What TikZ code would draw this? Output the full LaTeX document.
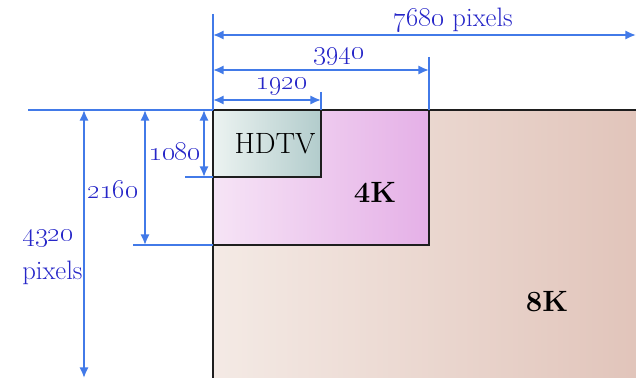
\documentclass[tikz,border=0pt]{standalone}
\usetikzlibrary{arrows.meta}
\definecolor{dimblue}{RGB}{66,122,232}
\definecolor{labblue}{RGB}{38,38,200}
\definecolor{edge}{RGB}{30,30,30}
\tikzset{
    dimline/.style={dimblue, line width=1.5pt},
    dimarrow/.style={dimline, {Latex[length=8pt,width=7pt]}-{Latex[length=8pt,width=7pt]}},
    dimlabel/.style={labblue, inner sep=0pt, font=\fontsize{20}{22}\selectfont},
    screen/.style={draw=edge, line width=1.6pt},
    screenlabel/.style={inner sep=0pt, font=\fontsize{22}{24}\selectfont},
}
\begin{document}
\begin{tikzpicture}[x=0.75pt,y=-0.75pt]
    \useasboundingbox (0,0) rectangle (636,378);
    \clip (0,0) rectangle (636,378);
    % corners of the three screens
    \coordinate (o)   at (213,110);
    \coordinate (hd)  at (321,177);
    \coordinate (uhd) at (429,245);
    \coordinate (shv) at (642,384);
    \shade[left color={rgb,255:red,244;green,234;blue,229}, right color={rgb,255:red,225;green,196;blue,186}] (o) rectangle (shv);
    \draw[screen] (o) rectangle (shv);
    \shade[left color={rgb,255:red,246;green,228;blue,246}, right color={rgb,255:red,229;green,176;blue,231}] (o) rectangle (uhd);
    \draw[screen] (o) rectangle (uhd);
    \shade[left color={rgb,255:red,236;green,243;blue,241}, right color={rgb,255:red,178;green,204;blue,204}] (o) rectangle (hd);
    \draw[screen] (o) rectangle (hd);
    \node[screenlabel] (hdtv) at (275,144) {HDTV};
    \node[screenlabel] (fourk) at (375,192) {\textbf{4K}};
    \node[screenlabel] (eightk) at (547,302) {\textbf{8K}};
    % extension lines
    \coordinate (topl) at (28,110);
    \coordinate (leftt) at (213,14);
    \coordinate (hdt) at (321,92);
    \coordinate (uhdt) at (429,57);
    \coordinate (hdl) at (185,177);
    \coordinate (uhdl) at (133,245);
    \draw[dimline] (topl) -- (o);
    \draw[dimline] (leftt) -- (o);
    \draw[dimline] (hdt) -- (hd |- o);
    \draw[dimline] (uhdt) -- (uhd |- o);
    \draw[dimline] (hdl) -- (o |- hd);
    \draw[dimline] (uhdl) -- (o |- uhd);
    % widths
    \coordinate (w8a) at (213,35);  \coordinate (w8b) at (636,35);
    \coordinate (w4a) at (213,70);  \coordinate (w4b) at (429,70);
    \coordinate (w2a) at (213,100); \coordinate (w2b) at (321,100);
    \draw[dimarrow] (w8a) -- (w8b);
    \draw[dimarrow] (w4a) -- (w4b);
    \draw[dimarrow] (w2a) -- (w2b);
    \node[dimlabel] (w8) at (453,20) {\oldstylenums{7680} pixels};
    \node[dimlabel] (w4) at (339,56) {\oldstylenums{3940}};
    \node[dimlabel] (w2) at (282,86) {\oldstylenums{1920}};
    % heights
    \coordinate (h2a) at (204,110); \coordinate (h2b) at (204,177);
    \coordinate (h4a) at (145,110); \coordinate (h4b) at (145,245);
    \coordinate (h8a) at (84,110);  \coordinate (h8b) at (84,378);
    \draw[dimarrow] (h2a) -- (h2b);
    \draw[dimarrow] (h4a) -- (h4b);
    \draw[dimarrow] (h8a) -- (h8b);
    \node[dimlabel] (h2) at (175,152) {\oldstylenums{1080}};
    \node[dimlabel] (h4) at (113,190) {\oldstylenums{2160}};
    \node[dimlabel, anchor=west, align=left, font=\fontsize{20}{29}\selectfont] (h8) at (22,257) {\oldstylenums{4320}\\pixels};
\end{tikzpicture}
\end{document}
